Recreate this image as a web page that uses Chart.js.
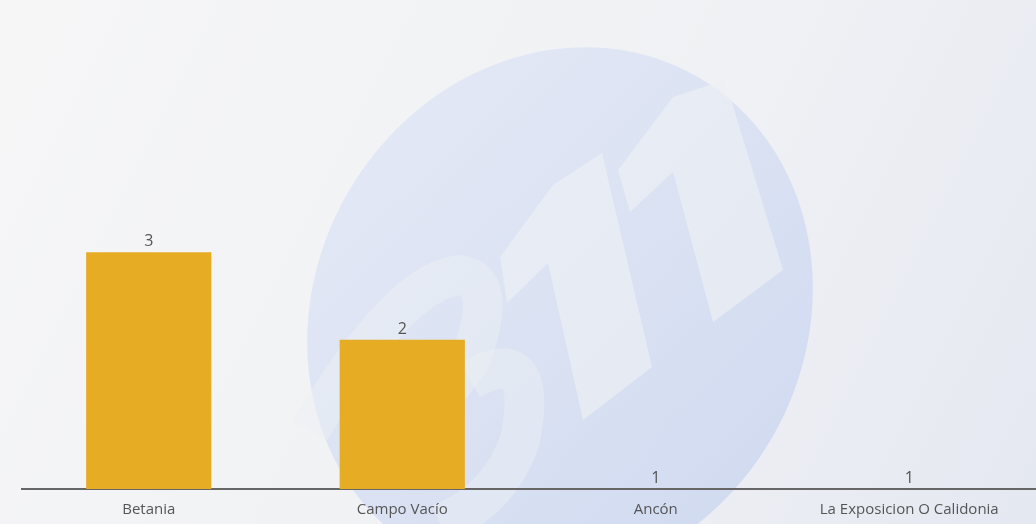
<!DOCTYPE html>
<html>
<head>
<meta charset="utf-8">
<script src="https://cdn.jsdelivr.net/npm/chart.js@4/dist/chart.umd.min.js"></script>
<style>
  html, body { margin: 0; padding: 0; background: #f4f5f7; }
  #wrap { width: 1036px; height: 524px; position: relative; }
</style>
</head>
<body>
<div id="wrap"><canvas id="c" width="1036" height="524"></canvas></div>
<script>
const categories = ["Betania", "Campo Vacío", "Ancón", "La Exposicion O Calidonia"];
const values = [3, 2, 1, 1];

const bgPlugin = {
  id: 'bg',
  beforeDraw(chart) {
    const ctx = chart.ctx, W = chart.width, H = chart.height;
    ctx.save();
    let g = ctx.createLinearGradient(0, 0, W, H);
    g.addColorStop(0, '#f6f6f7');
    g.addColorStop(0.6, '#f0f1f4');
    g.addColorStop(1, '#e4e8f1');
    ctx.fillStyle = g;
    ctx.fillRect(0, 0, W, H);
    // watermark disc
    ctx.save();
    ctx.translate(560, 315);
    ctx.rotate(-60 * Math.PI / 180);
    ctx.beginPath();
    ctx.ellipse(0, 0, 275, 245, 0, 0, Math.PI * 2);
    ctx.restore();
    let g2 = ctx.createLinearGradient(380, 60, 800, 500);
    g2.addColorStop(0, 'rgba(224,230,245,0.8)');
    g2.addColorStop(1, 'rgba(205,216,240,0.9)');
    ctx.fillStyle = g2;
    ctx.fill();
    // lighter glyph shapes
    ctx.fillStyle = 'rgba(236,239,244,0.7)';
    ctx.beginPath();
    ctx.moveTo(500, 257); ctx.lineTo(553, 185); ctx.lineTo(602, 153);
    ctx.lineTo(652, 367); ctx.lineTo(583, 420); ctx.lineTo(548, 263);
    ctx.lineTo(507, 303); ctx.closePath(); ctx.fill();
    ctx.beginPath();
    ctx.moveTo(618, 170); ctx.lineTo(673, 97); ctx.lineTo(725, 80);
    ctx.lineTo(783, 270); ctx.lineTo(713, 322); ctx.lineTo(673, 172);
    ctx.lineTo(630, 212); ctx.closePath(); ctx.fill();
    // stylised "3"
    ctx.strokeStyle = 'rgba(236,239,244,0.5)';
    ctx.lineWidth = 40;
    ctx.lineCap = 'butt';
    ctx.beginPath();
    ctx.moveTo(310, 430);
    ctx.quadraticCurveTo(400, 280, 460, 275);
    ctx.quadraticCurveTo(500, 280, 470, 360);
    ctx.lineTo(440, 400);
    ctx.stroke();
    ctx.beginPath();
    ctx.moveTo(470, 380);
    ctx.quadraticCurveTo(540, 340, 520, 440);
    ctx.quadraticCurveTo(500, 500, 440, 524);
    ctx.stroke();
    ctx.restore();
  }
};

const labelPlugin = {
  id: 'barLabels',
  afterDatasetsDraw(chart) {
    const ctx = chart.ctx;
    ctx.save();
    ctx.font = '16px "Open Sans", "Noto Sans", sans-serif';
    ctx.fillStyle = '#555555';
    ctx.textAlign = 'center';
    ctx.textBaseline = 'alphabetic';
    const meta = chart.getDatasetMeta(0);
    meta.data.forEach((bar, i) => {
      ctx.fillText(String(values[i]), bar.x, bar.y - 6);
    });
    ctx.restore();
  }
};

new Chart(document.getElementById('c'), {
  type: 'bar',
  data: {
    labels: categories,
    datasets: [{
      data: values,
      backgroundColor: '#E6AC24',
      borderWidth: 0,
      categoryPercentage: 1.0,
      barPercentage: 0.494
    }]
  },
  options: {
    responsive: false,
    animation: false,
    layout: { padding: { left: 22, right: 0, top: 41, bottom: 1 } },
    plugins: { legend: { display: false }, tooltip: { enabled: false } },
    scales: {
      x: {
        grid: { display: false },
        border: { display: true, color: '#666666', width: 2 },
        ticks: {
          color: '#555555',
          padding: 4,
          font: { family: '"Open Sans", "Noto Sans", sans-serif', size: 15 }
        }
      },
      y: {
        type: 'logarithmic',
        display: false,
        min: 1,
        max: 8
      }
    }
  },
  plugins: [bgPlugin, labelPlugin]
});
</script>
</body>
</html>
